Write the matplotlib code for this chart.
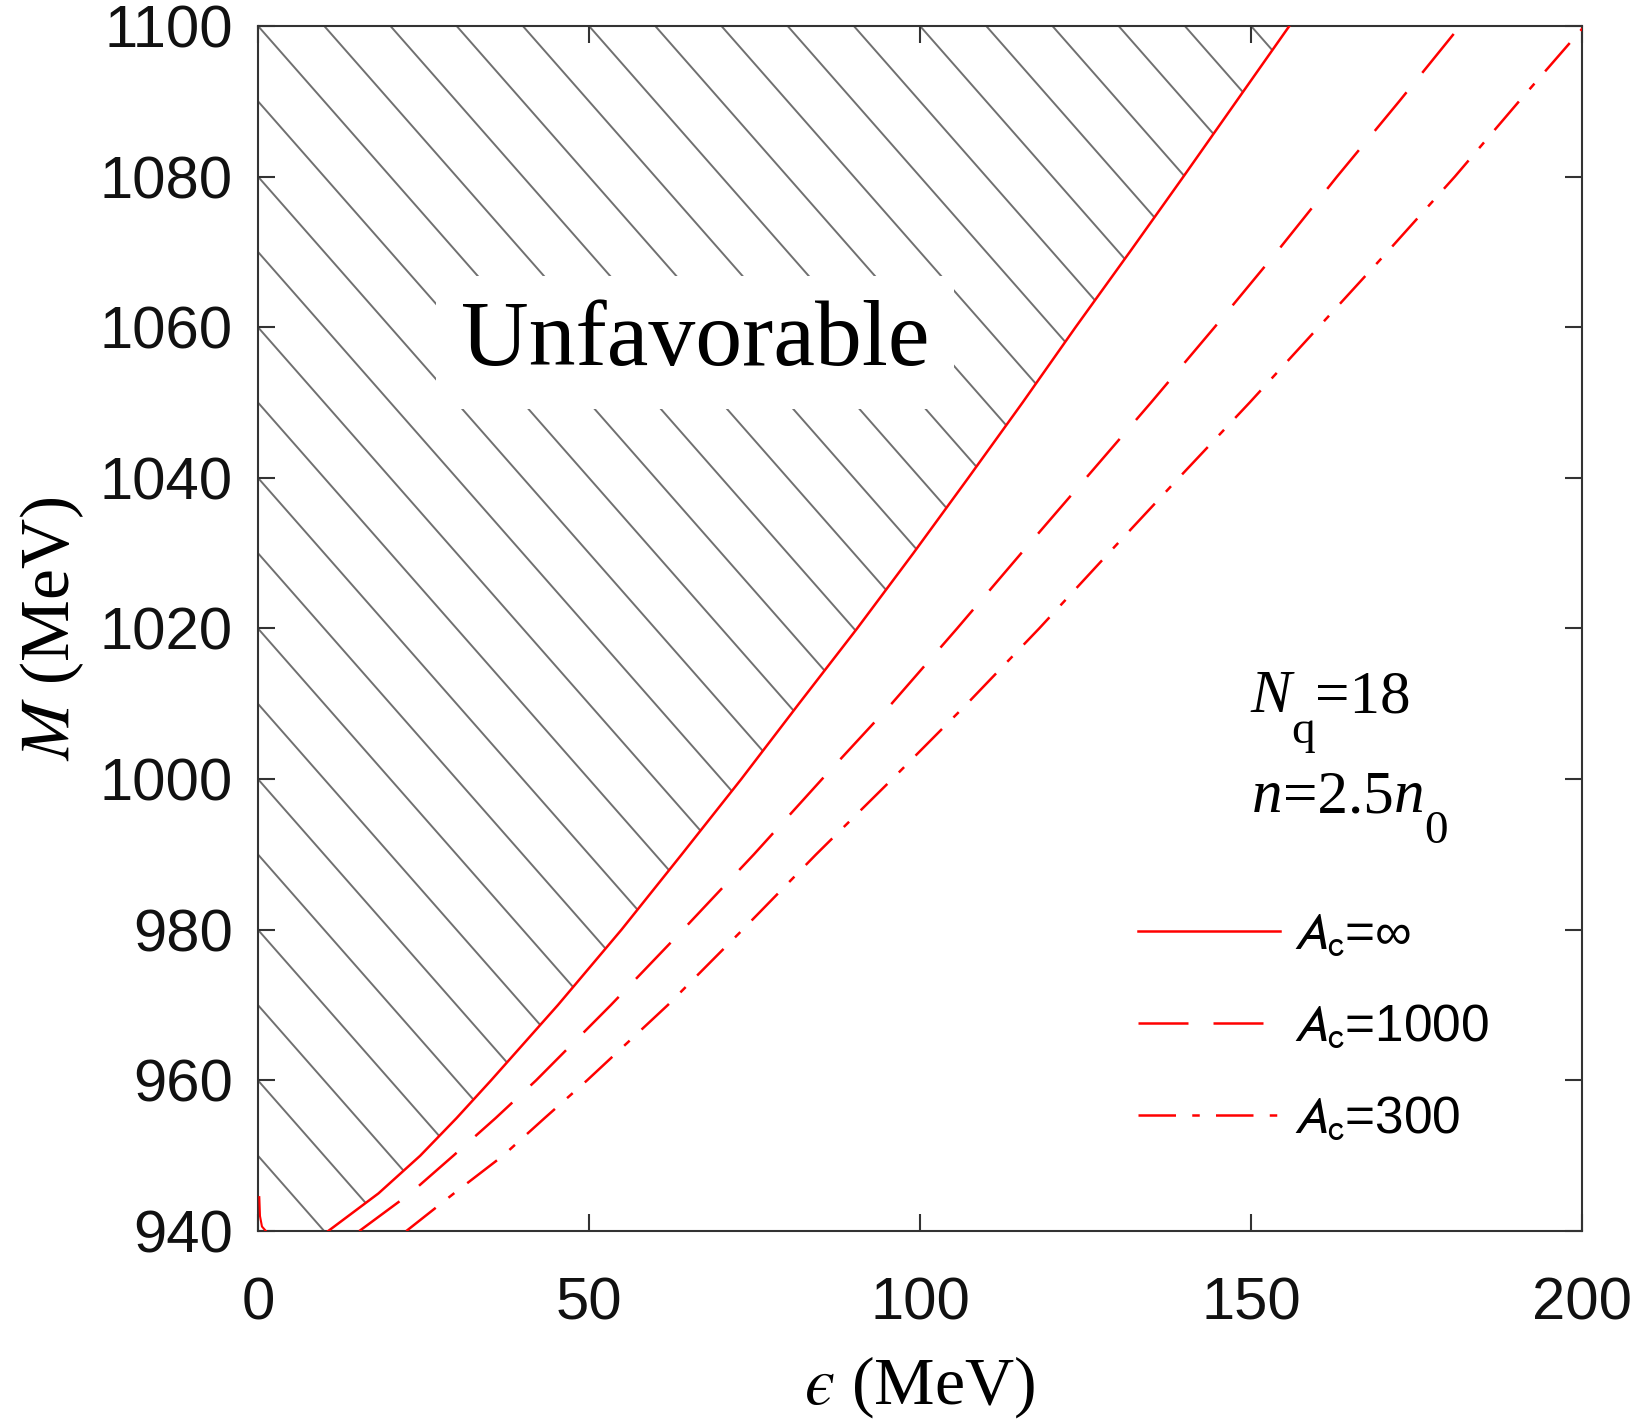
import numpy as np
import matplotlib
matplotlib.use("Agg")
import matplotlib.pyplot as plt
from matplotlib.collections import LineCollection
from matplotlib.patches import Polygon
from matplotlib.lines import Line2D
from matplotlib.font_manager import FontProperties

plt.rcParams['mathtext.fontset'] = 'stix'

# M (MeV) and the epsilon (MeV) of each boundary curve
mass = [940, 945, 950, 955, 960, 970, 980, 990, 1000, 1010, 1020, 1030, 1040, 1050, 1060, 1070, 1080, 1090, 1100]
eps_inf = [10.6, 18.2, 24.5, 30.0, 35.2, 45.3, 54.9, 64.0, 73.0, 81.7, 90.5, 99.0, 107.3, 115.5, 123.5, 131.7, 139.8, 147.8, 155.8]
eps_1000 = [15.3, 23.0, 29.5, 35.9, 42.0, 53.3, 64.2, 74.9, 85.2, 95.7, 105.6, 115.3, 125.1, 134.9, 144.5, 153.9, 163.0, 172.4, 181.6]
eps_300 = [22.4, 29.6, 37.0, 43.3, 49.7, 61.9, 73.2, 84.3, 95.8, 107.1, 118.0, 128.5, 139.1, 149.8, 160.2, 170.6, 180.8, 190.5, 200.4]

# tiny red piece at the lower left corner
spike_eps = [0.2, 0.3, 0.6, 1.2]
spike_m = [944.5, 942.0, 940.6, 940.0]

labels = [r'$A_{\rm c}$=∞', r'$A_{\rm c}$=1000', r'$A_{\rm c}$=300']
hatch_levels = list(range(950, 1260, 10))  # lines eps + M = const

red = '#ff0000'
dash_1000 = (0, (20, 10))
dash_300 = (0, (15, 6.5, 3, 6.5))
serif = 'Liberation Serif'


def chained_text(ax, x, y, parts, size, sub_size, drop):
    # parts: (string, italic, is_subscript); pieces are placed one after another
    prev = None
    prev_off = 0
    for s, italic, sub in parts:
        style = 'italic' if italic else 'normal'
        fs = sub_size if sub else size
        off = -drop if sub else 0
        if prev is None:
            prev = ax.text(x, y, s, ha='left', va='baseline', fontsize=fs,
                           family=serif, style=style)
        else:
            prev = ax.annotate(s, xy=(1, 0), xycoords=prev, xytext=(0, off - prev_off),
                               textcoords='offset points', ha='left', va='bottom',
                               fontsize=fs, family=serif, style=style)
        prev_off = off


fig = plt.figure(figsize=(16.38, 14.25), dpi=100)
ax = fig.add_axes([0.1575, 0.1361, 0.8083, 0.8457])

# hatched "unfavorable" region, left of the A_c = inf curve
region = np.column_stack([[0] + eps_inf + [0], [mass[0]] + mass + [mass[-1]]])
clip = Polygon(region, closed=True, facecolor='none', edgecolor='none')
ax.add_patch(clip)
segs = [[(0, c), (200, c - 200)] for c in hatch_levels]
hatch = LineCollection(segs, colors='#707070', linewidths=1.4, zorder=1)
ax.add_collection(hatch)
hatch.set_clip_path(clip)

ax.plot(eps_inf, mass, color=red, lw=1.8, zorder=4)
ax.plot(eps_1000, mass, color=red, lw=1.8, ls=dash_1000, zorder=4)
ax.plot(eps_300, mass, color=red, lw=1.8, ls=dash_300, zorder=4)
ax.plot(spike_eps, spike_m, color=red, lw=1.5, zorder=4)

ax.text(66.0, 1055.0, 'Unfavorable', ha='center', va='baseline', fontsize=67.5,
        family=serif, zorder=3,
        bbox=dict(boxstyle='square,pad=0.26', fc='white', ec='none'))

chained_text(ax, 149.9, 1008.9, [('N', True, False), ('q', False, True), ('=18', False, False)],
             44, 34, 20)
chained_text(ax, 150.2, 995.6, [('n', True, False), ('=2.5', False, False), ('n', True, False),
                                ('0', False, True)], 44, 34, 20)

handles = [Line2D([], [], color=red, lw=1.8),
           Line2D([], [], color=red, lw=1.8, ls=dash_1000),
           Line2D([], [], color=red, lw=1.8, ls=dash_300)]
leg = ax.legend(handles, labels, loc='upper left', bbox_to_anchor=(0.665, 0.266),
                frameon=False, borderpad=0, borderaxespad=0, handlelength=2.75,
                handletextpad=0.25, labelspacing=0.84,
                prop=FontProperties(family='Liberation Sans', size=37, math_fontfamily='stixsans'))

ax.set_xlim(0, 200)
ax.set_ylim(940, 1100)
ax.set_xticks([0, 50, 100, 150, 200])
ax.set_yticks(list(range(940, 1101, 20)))
ax.tick_params(direction='in', top=True, right=True, length=12, width=1.5,
               labelsize=43, colors='#333333', labelcolor='#111111')
ax.tick_params(axis='x', pad=33)
ax.tick_params(axis='y', pad=18)
for lab in ax.get_xticklabels() + ax.get_yticklabels():
    lab.set_family('Liberation Sans')
for sp in ax.spines.values():
    sp.set_linewidth(1.5)
    sp.set_color('#333333')

ax.set_xlabel('$\u03f5$ (MeV)', fontsize=49, family=serif, math_fontfamily='stix', labelpad=16)
ax.set_ylabel(r'$M$ (MeV)', fontsize=50, family=serif, math_fontfamily='stix', labelpad=10)

fig.savefig('out.png', dpi=100)
